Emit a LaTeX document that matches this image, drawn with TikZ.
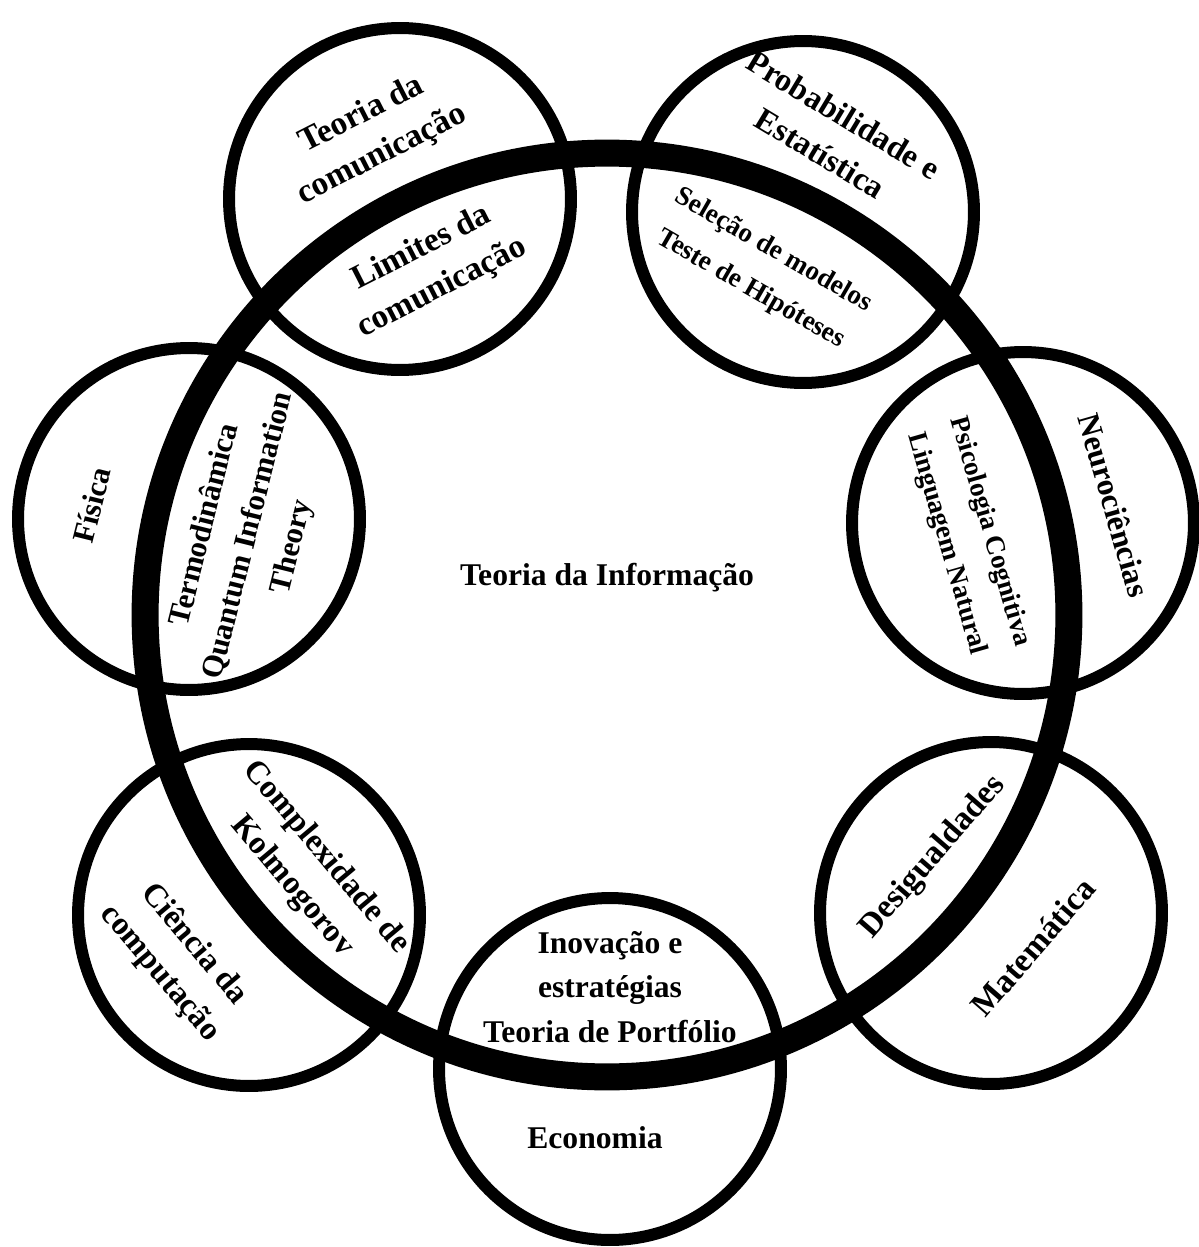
\documentclass[tikz,border=0pt]{standalone}
\usepackage{fontspec}
\setmainfont{Liberation Serif}
\tikzset{
  area/.style={draw,circle,minimum size=6.84cm,inner sep=0pt,line width=0.24cm},
  core/.style={draw,circle,minimum size=18.48cm,inner sep=0pt,line width=0.54cm},
  tema/.style={align=center,inner sep=0pt,font=\fontsize{#1}{25.5}\selectfont\bfseries},
  tema/.default=18.5,
}
\begin{document}
\begin{tikzpicture}[x=0.02cm,y=0.02cm]
  \useasboundingbox (0,0) rectangle (1199,-1247);

  % areas em volta
  \node[area] (com)   at (400,-199)  {};
  \node[area] (prob)  at (803,-212)  {};
  \node[area] (neuro) at (1023,-523) {};
  \node[area] (fis)   at (189,-519)  {};
  \node[area] (comp)  at (249,-915)  {};
  \node[area] (eco)   at (610,-1069) {};
  \node[area] (mat)   at (991,-913)  {};

  % anel central
  \node[core] (info)  at (607,-615)  {};
  \node[tema=18] (ti) at (607,-578)  {Teoria da Informação};

  % comunicacao
  \node[tema=19,rotate=27]   (com-a)   at (372,-135)  {Teoria da\\comunicação};
  \node[tema=19,rotate=27]   (com-b)   at (432,-268)  {Limites da\\comunicação};

  % probabilidade
  \node[tema,rotate=-31]     (prob-a)  at (832,-134)  {Probabilidade e\\Estatística};
  \node[tema=15.5,rotate=-30] (prob-b) at (762,-270)  {Seleção de modelos\\Teste de Hipóteses};

  % neurociencias
  \node[tema=18,rotate=-74]  (neuro-a) at (1114,-505) {Neurociências};
  \node[tema=15.5,rotate=-74] (neuro-b) at (968,-538) {Psicologia Cognitiva\\Linguagem Natural};

  % fisica
  \node[tema=17.5,rotate=76] (fis-a)   at (92,-505)   {Física};
  \node[tema=17.5,rotate=76] (fis-b)   at (249,-536)  {Termodinâmica\\Quantum Information\\Theory};

  % computacao
  \node[tema,rotate=-50]     (comp-b)  at (309,-872)  {Complexidade de\\Kolmogorov};
  \node[tema,rotate=-50]     (comp-a)  at (177,-959)  {Ciência da\\computação};

  % economia
  \node[tema=18]             (eco-b)   at (610,-987)  {Inovação e\\estratégias\\Teoria de Portfólio};
  \node[tema=18]             (eco-a)   at (595,-1138) {Economia};

  % matematica
  \node[tema=19,rotate=49]   (mat-b)   at (933,-857)  {Desigualdades};
  \node[tema=19,rotate=49]   (mat-a)   at (1033,-947) {Matemática};

\end{tikzpicture}
\end{document}
